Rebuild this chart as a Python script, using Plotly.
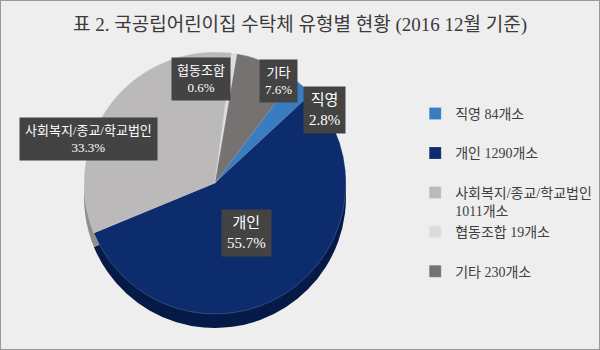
import math
import plotly.graph_objects as go

# ---- data ----
categories = ["직영", "개인", "사회복지/종교/학교법인", "협동조합", "기타"]
counts = [84, 1290, 1011, 19, 230]
percents = [2.8, 55.7, 33.3, 0.6, 7.6]
title_text = "표 2. 국공립어린이집 수탁체 유형별 현황 (2016 12월 기준)"

# ---- style ----
W, H = 600, 350
colors = ["#3a7cc2", "#0c2c6e", "#bbb9b9", "#dcdcdc", "#767272"]
depth_colors = ["#245a94", "#051a47", "#8f8d8d", "#b3b3b3", "#524f4f"]
rotation = 37
cx_px, cy_px, R_px = 215, 183, 131
depth_px = 14
label_factor = [1.0, 0.45, 0.55, 0.8, 0.85]
label_xanchor = ["left", "center", "right", "right", "left"]
label_yanchor = ["top", "middle", "middle", "middle", "middle"]
label_size = [15, 15, 13, 13, 13]
serif = "Liberation Serif, Noto Sans CJK KR, serif"


def dom(cx, cy, r):
    return dict(x=[(cx - r) / W, (cx + r) / W], y=[1 - (cy + r) / H, 1 - (cy - r) / H])


legend_labels = []
for c, n in zip(categories, counts):
    if len(c) > 6:
        legend_labels.append(f"{c}<br>{n}개소")
    else:
        legend_labels.append(f"{c} {n}개소<br> ")

fig = go.Figure()
# depth (3D side) layer
fig.add_trace(go.Pie(
    labels=[l + "_d" for l in legend_labels], values=percents, sort=False,
    direction="clockwise", rotation=rotation, textinfo="none", hoverinfo="skip",
    marker=dict(colors=depth_colors, line=dict(width=0)),
    domain=dom(cx_px, cy_px + depth_px, R_px), showlegend=False,
))
fig.add_trace(go.Pie(
    labels=legend_labels, values=percents, sort=False,
    direction="clockwise", rotation=rotation, textinfo="none",
    marker=dict(colors=colors, line=dict(color="rgba(255,255,255,0.35)", width=0.5)),
    domain=dom(cx_px, cy_px, R_px),
))

# labels at slice mid-angles
total = sum(percents)
cum = 0
for i, (c, p) in enumerate(zip(categories, percents)):
    mid = rotation + (cum + p / 2) / total * 360
    cum += p
    a = math.radians(mid)
    xp = cx_px + label_factor[i] * R_px * math.sin(a)
    yp = cy_px - label_factor[i] * R_px * math.cos(a)
    fig.add_annotation(
        x=xp / W, y=1 - yp / H, xref="paper", yref="paper",
        text=f"{c}<br>{p}%", showarrow=False,
        xanchor=label_xanchor[i], yanchor=label_yanchor[i],
        font=dict(family=serif, size=label_size[i], color="white"),
        bgcolor="#434343", borderpad=5, align="center",
    )

fig.update_layout(
    width=W, height=H,
    margin=dict(l=0, r=0, t=0, b=0),
    paper_bgcolor="#eeeeee",
    title=dict(text=title_text, x=0.5, xanchor="center", y=1 - 24 / H, yanchor="middle",
               font=dict(family=serif, size=19, color="#3a3a3a")),
    legend=dict(x=0.692, y=1 - 98 / H, xanchor="left", yanchor="top",
                font=dict(family=serif, size=14, color="#404040"),
                valign="top", bgcolor="rgba(0,0,0,0)", itemwidth=30),
    shapes=[dict(type="rect", xref="paper", yref="paper", x0=0, y0=0, x1=1, y1=1,
                 line=dict(color="#9a9a9a", width=2))],
)

fig.write_html("out.html")
